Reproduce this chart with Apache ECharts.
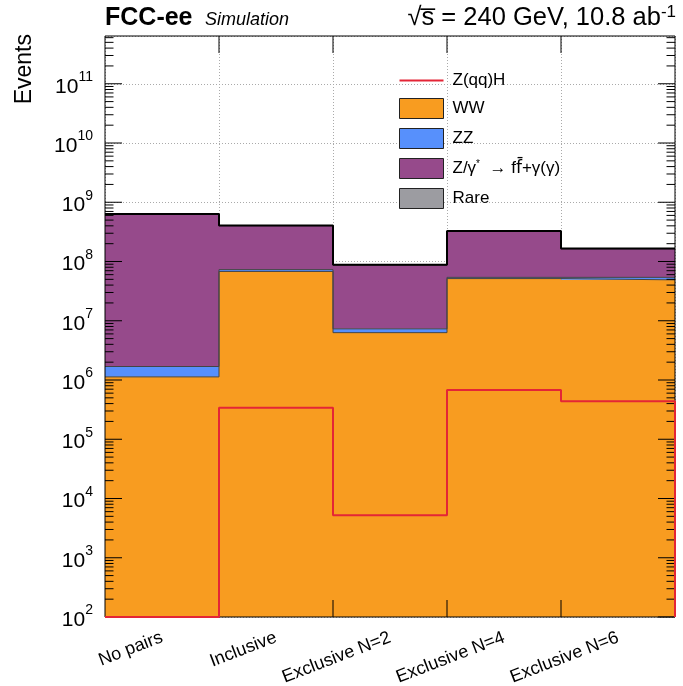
<!DOCTYPE html>
<html>
<head>
<meta charset="utf-8">
<script src="https://cdn.jsdelivr.net/npm/echarts@6/dist/echarts.min.js"></script>
<style>
  html, body { margin: 0; padding: 0; background: #fff; }
  #chart { width: 683px; height: 686px; }
</style>
</head>
<body>
<div id="chart"></div>
<script>
// Event yields per selection category (stacked backgrounds + signal line)
const categories = ['No pairs', 'Inclusive', 'Exclusive N=2', 'Exclusive N=4', 'Exclusive N=6'];
const wwEvents   = [1.13e6, 6.8e7, 6.3e6, 5.15e7, 4.9e7];
const zzEvents   = [5.6e5, 5.0e6, 1.0e6, 2.5e6, 5.0e6];
const zgEvents   = [6.3e8, 3.3e8, 8.0e7, 2.7e8, 1.1e8];
const rareEvents = [4e6, 2e6, 5e5, 2e6, 1e6];
const zqqhEvents = [100, 3.4e5, 5.2e3, 6.8e5, 4.4e5];

const seriesNames = ['Z(qq)H', 'WW', 'ZZ', 'Z/γ* → ff̄+γ(γ)', 'Rare'];
const colors = { zqqh: '#e42536', ww: '#f89c20', zz: '#5790fc', zg: '#964a8b', rare: '#9c9ca1' };

const yMin = 1e2;
const yMax = 6.4e11;
const minorSteps = [2, 3, 4, 5, 6, 7, 8, 9];

const FONT = 'Liberation Sans, Arial, Helvetica, sans-serif';
const nBins = categories.length;

// cumulative stack levels for the histogram outlines
function cumulate(...arrays) {
  return categories.map((_, i) => arrays.reduce((s, a) => s + a[i], 0));
}
const lvlWW = cumulate(wwEvents);
const lvlZZ = cumulate(wwEvents, zzEvents);
const lvlZG = cumulate(wwEvents, zzEvents, zgEvents);
const lvlAll = cumulate(wwEvents, zzEvents, zgEvents, rareEvents);

// bin-edge step data: value i spans [i, i+1]
function stepData(vals, closeTo) {
  const d = vals.map((v, i) => [i, v]);
  d.push([vals.length, vals[vals.length - 1]]);
  if (closeTo !== undefined) d.push([vals.length, closeTo]);
  return d;
}

function outline(vals, color, width, z) {
  return {
    type: 'line', xAxisIndex: 1, yAxisIndex: 0, step: 'end',
    data: stepData(vals), symbol: 'none', silent: true, z: z,
    lineStyle: { color: color, width: width }
  };
}

function bar(name, vals, color) {
  return {
    name: name, type: 'bar', stack: 'bkg', xAxisIndex: 0, yAxisIndex: 0,
    data: vals, barCategoryGap: '0%', barWidth: '100%', clip: true,
    itemStyle: { color: color }, emphasis: { disabled: true }
  };
}

const boxStyle = { borderColor: '#222', borderWidth: 1 };

const chart = echarts.init(document.getElementById('chart'), null, { renderer: 'canvas' });

const option = {
  animation: false,
  backgroundColor: '#ffffff',
  textStyle: { fontFamily: FONT },
  grid: { left: 105, right: 8, top: 36, bottom: 69, containLabel: false, outerBoundsMode: 'none' },
  legend: {
    orient: 'vertical', left: 399, top: 72, padding: 0,
    itemWidth: 44, itemHeight: 20, itemGap: 9,
    selectedMode: false,
    textStyle: {
      fontFamily: FONT, fontSize: 17, color: '#000', padding: [0, 0, 0, 4],
      rich: {
        sup: { fontSize: 10, verticalAlign: 'top', padding: [0, 0, 8, 0] },
        fb: { fontSize: 17, fontFamily: 'DejaVu Sans, sans-serif', color: '#000' }
      }
    },
    formatter: function (name) {
      if (name === seriesNames[3]) return 'Z/γ{sup|*}  → f{fb|f̄}+γ(γ)';
      return name;
    },
    data: [
      { name: seriesNames[0], icon: 'path://M0,0 L44,0 L44,2 L0,2 Z', itemStyle: { color: colors.zqqh, borderWidth: 0 } },
      { name: seriesNames[1], icon: 'rect', itemStyle: boxStyle },
      { name: seriesNames[2], icon: 'rect', itemStyle: boxStyle },
      { name: seriesNames[3], icon: 'rect', itemStyle: boxStyle },
      { name: seriesNames[4], icon: 'rect', itemStyle: boxStyle }
    ]
  },
  xAxis: [
    {
      type: 'category', data: categories, boundaryGap: true,
      axisLine: { show: false }, axisTick: { show: false }, splitLine: { show: false },
      axisLabel: { rotate: 21, fontSize: 18, color: '#000', margin: 20, interval: 0, fontFamily: FONT }
    },
    {
      type: 'value', min: 0, max: nBins, interval: 1, position: 'bottom',
      axisLine: { show: false }, axisTick: { show: false }, axisLabel: { show: false },
      splitLine: { show: true, lineStyle: { color: '#aaa', type: [1, 2], width: 1 } }
    }
  ],
  yAxis: [
    {
      type: 'log', logBase: 10, min: yMin, max: yMax, splitNumber: 10,
      axisLine: { show: false }, axisTick: { show: false },
      splitLine: { show: true, lineStyle: { color: '#aaa', type: [1, 2], width: 1 } },
      axisLabel: {
        margin: 12, color: '#000', fontFamily: FONT,
        formatter: function (v) {
          const l = Math.log10(v);
          const e = Math.round(l);
          if (Math.abs(l - e) > 1e-6) return '';
          return '{b|10}{s|' + e + '}';
        },
        rich: {
          b: { fontSize: 21, fontFamily: FONT, color: '#000', verticalAlign: 'bottom', lineHeight: 27 },
          s: { fontSize: 14, fontFamily: FONT, color: '#000', verticalAlign: 'top', lineHeight: 27 }
        }
      }
    }
  ],
  graphic: [
    { type: 'text', z: 100, style: { x: 105, y: 18, text: 'FCC-ee', fontFamily: FONT, fontWeight: 'bold', fontSize: 25, fill: '#000', verticalAlign: 'middle' } },
    { type: 'text', z: 100, style: { x: 205, y: 20, text: 'Simulation', fontFamily: FONT, fontStyle: 'italic', fontSize: 18, fill: '#000', verticalAlign: 'middle' } },
    { type: 'text', z: 100, style: {
        x: 676, y: 18, text: '√s̅ = 240 GeV, 10.8 ab{s|-1}', fontFamily: FONT, fontSize: 25.5, fill: '#000',
        align: 'right', verticalAlign: 'middle',
        rich: { s: { fontSize: 17, fontFamily: FONT, verticalAlign: 'top', padding: [0, 0, 12, 0] } }
      } },
    { type: 'text', z: 100, rotation: Math.PI / 2, x: 25, y: 34,
      style: { x: 0, y: 0, text: 'Events', fontFamily: FONT, fontSize: 23, fill: '#000', align: 'right', verticalAlign: 'middle' } }
  ],
  series: [
    bar(seriesNames[1], wwEvents, colors.ww),
    bar(seriesNames[2], zzEvents, colors.zz),
    bar(seriesNames[3], zgEvents, colors.zg),
    bar(seriesNames[4], rareEvents, colors.rare),
    outline(lvlWW, '#444', 1, 3),
    outline(lvlZZ, '#444', 1, 3),
    outline(lvlZG, '#333', 1, 3),
    outline(lvlAll, '#000', 2, 4),
    {
      name: seriesNames[0], type: 'line', xAxisIndex: 1, yAxisIndex: 0, step: 'end',
      data: stepData(zqqhEvents, yMin), symbol: 'none', z: 6,
      itemStyle: { color: colors.zqqh },
      lineStyle: { color: colors.zqqh, width: 2 }
    },
    {
      // frame and inward ticks on all four sides
      type: 'custom', xAxisIndex: 1, yAxisIndex: 0, z: 5, silent: true,
      data: [[0, yMin]],
      renderItem: function (params, api) {
        const children = [];
        const tl = api.coord([0, yMax]);
        const br = api.coord([nBins, yMin]);
        const style = { stroke: '#000', lineWidth: 1 };
        children.push({ type: 'rect', shape: { x: tl[0], y: tl[1], width: br[0] - tl[0], height: br[1] - tl[1] }, style: { fill: null, stroke: '#000', lineWidth: 1 } });
        const majorLen = 17, minorLen = 8.5;
        for (let d = Math.floor(Math.log10(yMin)); d <= Math.ceil(Math.log10(yMax)); d++) {
          const base = Math.pow(10, d);
          [1].concat(minorSteps).forEach(function (m) {
            const v = base * m;
            if (v < yMin || v > yMax) return;
            const y = api.coord([0, v])[1];
            const len = m === 1 ? majorLen : minorLen;
            children.push({ type: 'line', shape: { x1: tl[0], y1: y, x2: tl[0] + len, y2: y }, style: style });
            children.push({ type: 'line', shape: { x1: br[0], y1: y, x2: br[0] - len, y2: y }, style: style });
          });
        }
        for (let i = 1; i < nBins; i++) {
          const x = api.coord([i, yMin])[0];
          children.push({ type: 'line', shape: { x1: x, y1: br[1], x2: x, y2: br[1] - majorLen }, style: style });
          children.push({ type: 'line', shape: { x1: x, y1: tl[1], x2: x, y2: tl[1] + majorLen }, style: style });
        }
        return { type: 'group', children: children };
      }
    }
  ]
};

chart.setOption(option);
</script>
</body>
</html>
